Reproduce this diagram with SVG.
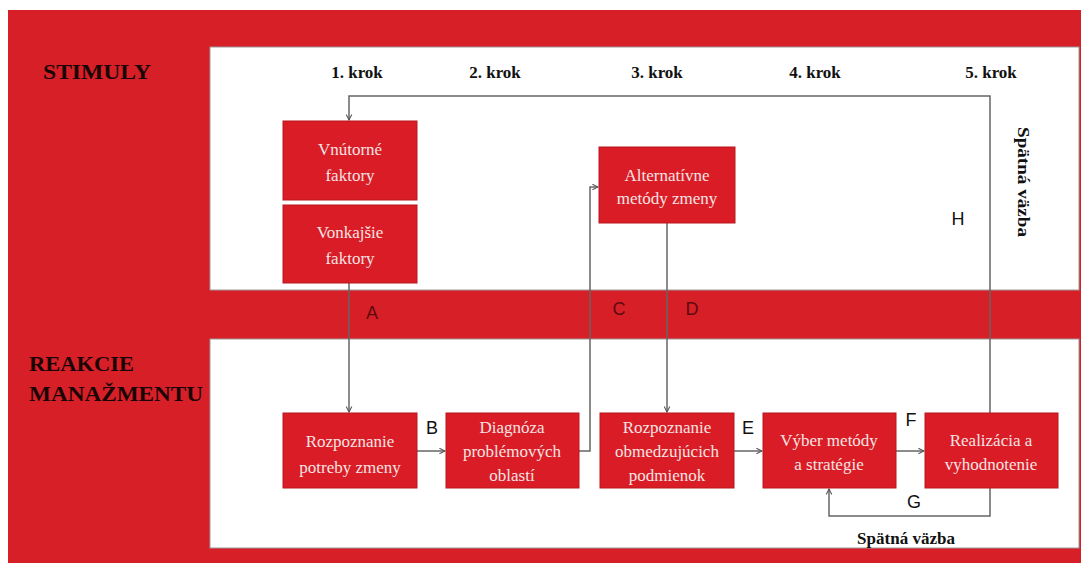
<svg xmlns="http://www.w3.org/2000/svg" width="1081" height="567" viewBox="0 0 1081 567">
<style>
.bg{fill:#d71f28}
.panel{fill:#ffffff;stroke:#9a9a9a;stroke-width:1}
.box{fill:#d91c25;stroke:#b8161e;stroke-width:1}
.bt{font-family:"Liberation Serif","Times New Roman",serif;font-size:17px;fill:#f6e4e4;text-anchor:middle}
.head{font-family:"Liberation Serif","Times New Roman",serif;font-size:22px;font-weight:bold;fill:#1a0505}
.krok{font-family:"Liberation Serif","Times New Roman",serif;font-size:17px;font-weight:bold;fill:#111;text-anchor:middle}
.lbl{font-family:"Liberation Sans",Arial,sans-serif;font-size:18px;fill:#111;text-anchor:middle}
.lbld{font-family:"Liberation Sans",Arial,sans-serif;font-size:18px;fill:#5e0a0e;text-anchor:middle}
.fb{font-family:"Liberation Serif","Times New Roman",serif;font-size:17px;font-weight:bold;fill:#111;text-anchor:middle}
.ln{fill:none;stroke:#666;stroke-width:1.5}
</style>
<defs>
<marker id="ah" viewBox="0 0 10 10" refX="9" refY="5" markerWidth="7" markerHeight="7" orient="auto" markerUnits="userSpaceOnUse">
<path d="M1,1 L9,5 L1,9" fill="none" stroke="#555" stroke-width="1.5"/>
</marker>
</defs>
<rect class="bg" x="8" y="10" width="1073" height="553"/>
<rect class="panel" x="210" y="47" width="869" height="243"/>
<rect class="panel" x="210" y="339" width="869" height="209"/>
<text class="head" x="43" y="79" textLength="108" lengthAdjust="spacingAndGlyphs">STIMULY</text>
<text class="head" x="29" y="371" textLength="105" lengthAdjust="spacingAndGlyphs">REAKCIE</text>
<text class="head" x="29" y="401" textLength="174" lengthAdjust="spacingAndGlyphs">MANAŽMENTU</text>
<g id="steps">
<text class="krok" x="357" y="78">1. krok</text>
<text class="krok" x="495" y="78">2. krok</text>
<text class="krok" x="657" y="78">3. krok</text>
<text class="krok" x="815" y="78">4. krok</text>
<text class="krok" x="991" y="78">5. krok</text>
</g>
<g id="connectors">
<path class="ln" d="M990,413 L990,96 L349,96 L349,120" marker-end="url(#ah)"/>
<path class="ln" d="M349,283 L349,412" marker-end="url(#ah)"/>
<path class="ln" d="M417,451 L445,451" marker-end="url(#ah)"/>
<path class="ln" d="M579,451 L590,451 L590,187 L598,187" marker-end="url(#ah)"/>
<path class="ln" d="M667,223 L667,412" marker-end="url(#ah)"/>
<path class="ln" d="M734,451 L762,451" marker-end="url(#ah)"/>
<path class="ln" d="M896,451 L924,451" marker-end="url(#ah)"/>
<path class="ln" d="M990,488 L990,516 L829,516 L829,489" marker-end="url(#ah)"/>
<text class="lbld" x="372" y="319">A</text>
<text class="lbl" x="432" y="434">B</text>
<text class="lbld" x="619" y="315">C</text>
<text class="lbld" x="692" y="315">D</text>
<text class="lbl" x="748" y="434">E</text>
<text class="lbl" x="911" y="426">F</text>
<text class="lbl" x="914" y="508">G</text>
<text class="lbl" x="958" y="225">H</text>
<text class="fb" x="906" y="544">Spätná väzba</text>
<text class="fb" transform="translate(1018,182) rotate(90)" textLength="110" lengthAdjust="spacingAndGlyphs">Spätná väzba</text>
</g>
<g id="n-vnutorne">
<rect class="box" x="283" y="121" width="134" height="79"/>
<text class="bt" x="350" y="155">Vnútorné</text>
<text class="bt" x="350" y="181">faktory</text>
</g>
<g id="n-vonkajsie">
<rect class="box" x="283" y="205" width="134" height="78"/>
<text class="bt" x="350" y="238">Vonkajšie</text>
<text class="bt" x="350" y="264">faktory</text>
</g>
<g id="n-alternativne">
<rect class="box" x="599" y="147" width="136" height="76"/>
<text class="bt" x="667" y="181">Alternatívne</text>
<text class="bt" x="667" y="204">metódy zmeny</text>
</g>
<g id="n-rozpoznanie-potreby">
<rect class="box" x="283" y="413" width="134" height="75"/>
<text class="bt" x="350" y="447">Rozpoznanie</text>
<text class="bt" x="350" y="473">potreby zmeny</text>
</g>
<g id="n-diagnoza">
<rect class="box" x="446" y="413" width="133" height="75"/>
<text class="bt" x="512" y="433">Diagnóza</text>
<text class="bt" x="512" y="457">problémových</text>
<text class="bt" x="512" y="481">oblastí</text>
</g>
<g id="n-rozpoznanie-obmedzujucich">
<rect class="box" x="600" y="413" width="134" height="75"/>
<text class="bt" x="667" y="433">Rozpoznanie</text>
<text class="bt" x="667" y="457">obmedzujúcich</text>
<text class="bt" x="667" y="481">podmienok</text>
</g>
<g id="n-vyber">
<rect class="box" x="763" y="413" width="133" height="75"/>
<text class="bt" x="829" y="446">Výber metódy</text>
<text class="bt" x="829" y="470">a stratégie</text>
</g>
<g id="n-realizacia">
<rect class="box" x="925" y="413" width="133" height="75"/>
<text class="bt" x="991" y="446">Realizácia a</text>
<text class="bt" x="991" y="470">vyhodnotenie</text>
</g>
</svg>
